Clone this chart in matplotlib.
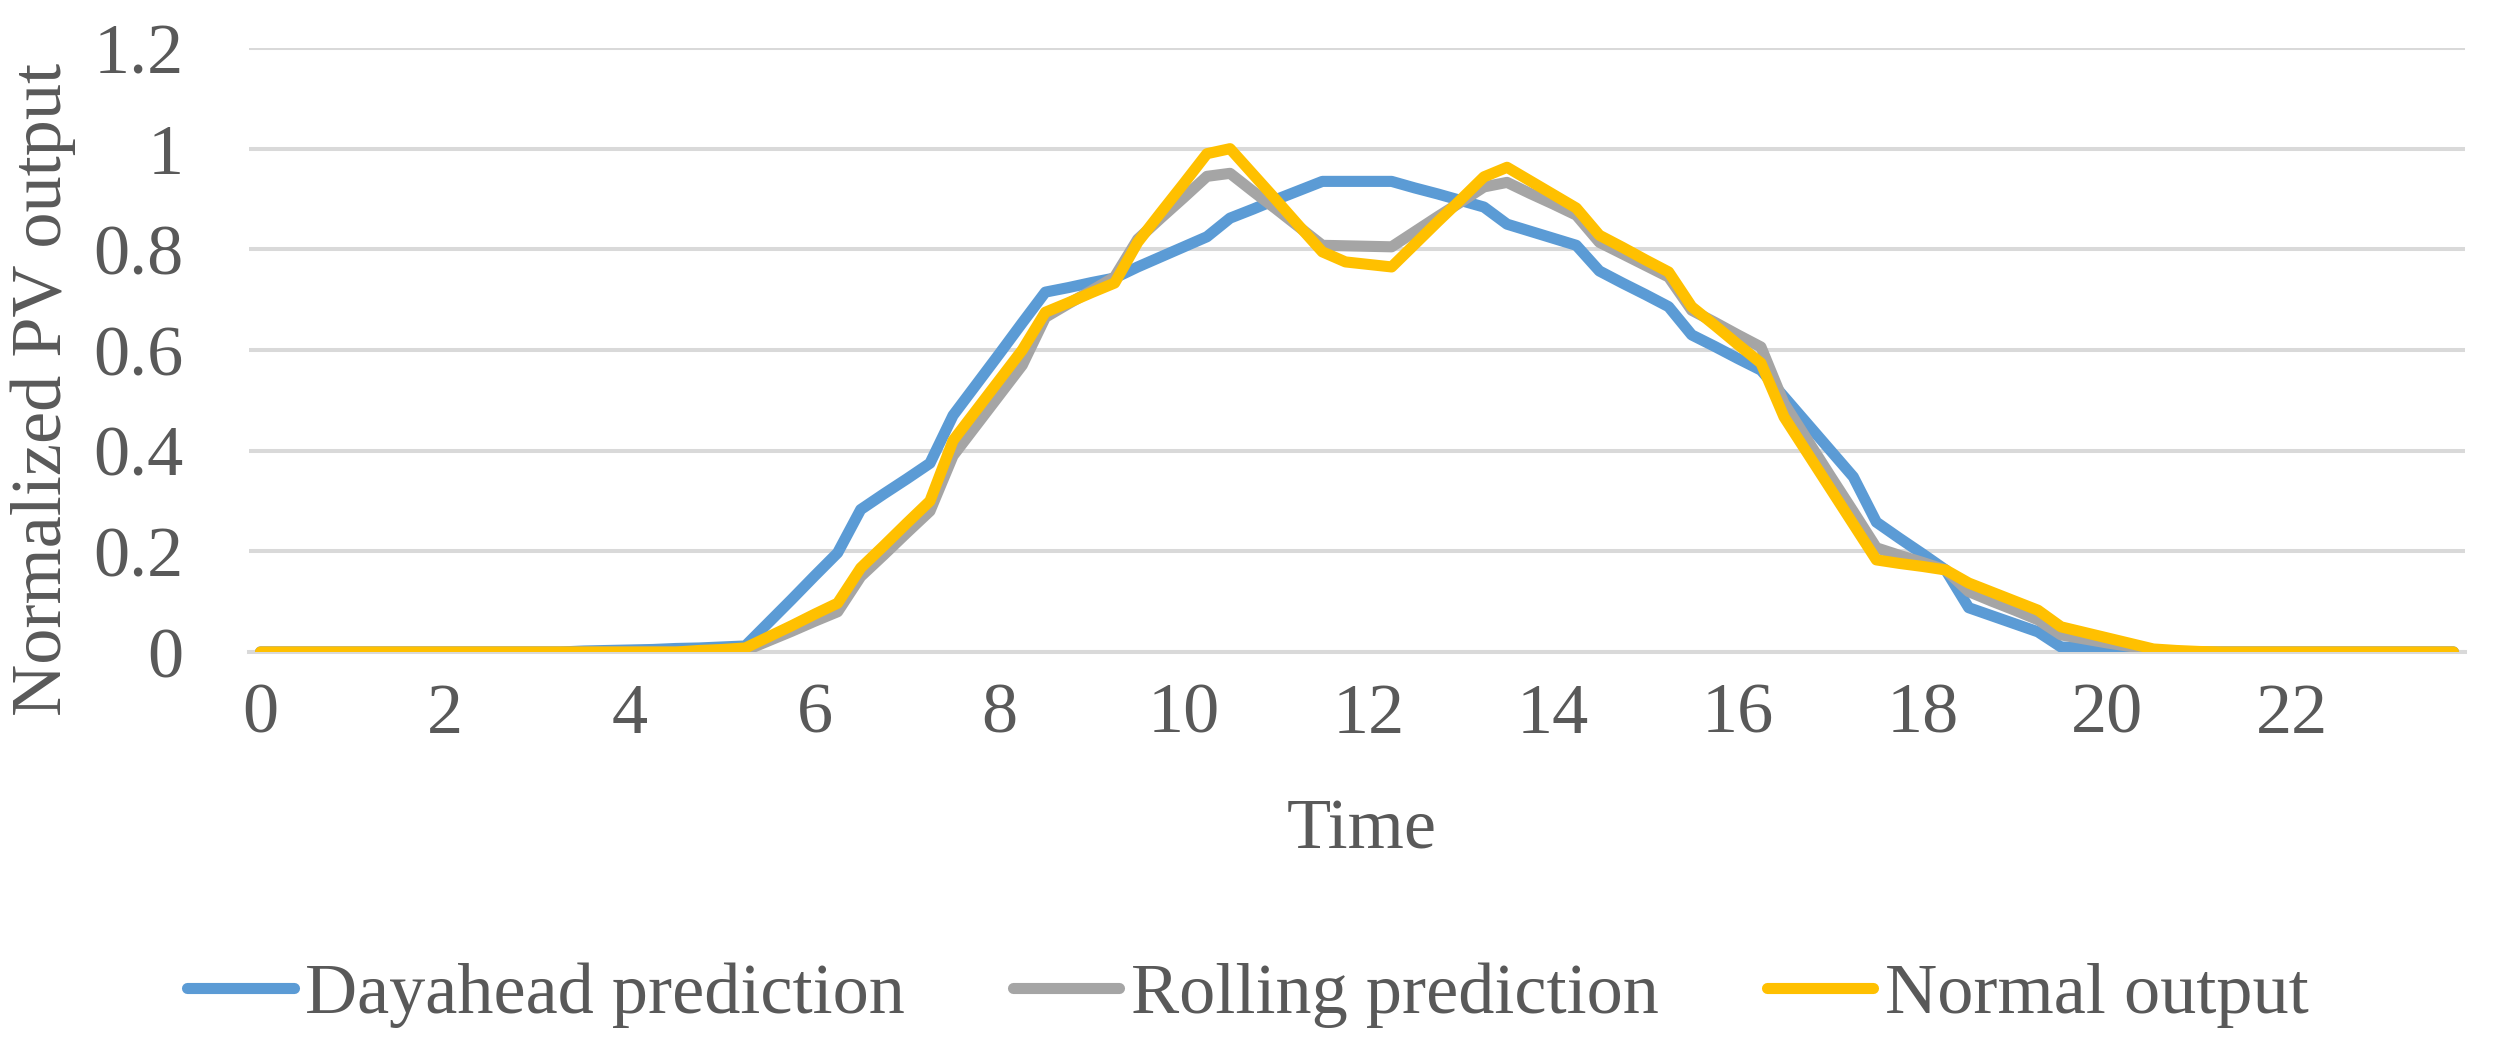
import numpy as np
import matplotlib
matplotlib.use("Agg")
import matplotlib.pyplot as plt

# 15-minute resolution, 96 points per day
time_h = np.arange(96) / 4.0

dayahead = [
    0, 0, 0, 0, 0, 0, 0, 0, 0, 0, 0, 0, 0, 0, 0.002, 0.003,
    0.004, 0.005, 0.007, 0.008, 0.010, 0.012, 0.058, 0.104, 0.151, 0.197, 0.283, 0.314,
    0.344, 0.375, 0.470, 0.531, 0.592, 0.654, 0.715, 0.724, 0.734, 0.743, 0.765, 0.785,
    0.805, 0.825, 0.862, 0.880, 0.899, 0.917, 0.935, 0.935, 0.935, 0.935, 0.922, 0.910,
    0.897, 0.884, 0.850, 0.836, 0.822, 0.808, 0.757, 0.733, 0.710, 0.686, 0.630, 0.607,
    0.583, 0.560, 0.507, 0.454, 0.401, 0.348, 0.258, 0.226, 0.195, 0.163, 0.088, 0.072,
    0.056, 0.040, 0.010, 0.008, 0.006, 0.004, 0.002, 0, 0, 0, 0, 0,
    0, 0, 0, 0, 0, 0, 0, 0,
]

rolling = [
    0, 0, 0, 0, 0, 0, 0, 0, 0, 0, 0, 0, 0, 0, 0, 0,
    0, 0, 0, 0, 0, 0.003, 0.022, 0.041, 0.061, 0.080, 0.150, 0.193,
    0.237, 0.280, 0.390, 0.450, 0.510, 0.570, 0.665, 0.692, 0.718, 0.745, 0.820, 0.862,
    0.903, 0.945, 0.951, 0.915, 0.880, 0.844, 0.808, 0.807, 0.806, 0.805, 0.835, 0.865,
    0.894, 0.924, 0.933, 0.911, 0.890, 0.868, 0.814, 0.791, 0.768, 0.745, 0.679, 0.655,
    0.630, 0.606, 0.494, 0.422, 0.350, 0.279, 0.207, 0.192, 0.178, 0.163, 0.120, 0.101,
    0.083, 0.064, 0.034, 0.026, 0.018, 0.011, 0.003, 0, 0, 0, 0, 0,
    0, 0, 0, 0, 0, 0, 0, 0,
]

normal = [
    0, 0, 0, 0, 0, 0, 0, 0, 0, 0, 0, 0, 0, 0, 0, 0,
    0, 0, 0, 0.003, 0.005, 0.008, 0.030, 0.052, 0.075, 0.097, 0.167, 0.211,
    0.256, 0.300, 0.420, 0.480, 0.540, 0.600, 0.675, 0.694, 0.714, 0.733, 0.814, 0.873,
    0.931, 0.990, 1.000, 0.949, 0.898, 0.846, 0.795, 0.775, 0.770, 0.765, 0.810, 0.855,
    0.899, 0.944, 0.963, 0.936, 0.909, 0.882, 0.828, 0.804, 0.779, 0.755, 0.686, 0.649,
    0.611, 0.574, 0.467, 0.396, 0.325, 0.254, 0.183, 0.176, 0.170, 0.163, 0.137, 0.119,
    0.101, 0.083, 0.050, 0.039, 0.028, 0.017, 0.006, 0.003, 0.001, 0, 0, 0,
    0, 0, 0, 0, 0, 0, 0, 0,
]

series_names = ["Dayahead prediction", "Rolling prediction", "Normal output"]
colors = ["#5B9BD5", "#A5A5A5", "#FFC000"]

xticks = list(range(0, 23, 2))
yticks = [0, 0.2, 0.4, 0.6, 0.8, 1.0, 1.2]
ytick_labels = ["0", "0.2", "0.4", "0.6", "0.8", "1", "1.2"]

plt.rcParams['font.family'] = ['Liberation Serif', 'DejaVu Serif']
txt = "#595959"
fs = 52
lw = 8.0

fig = plt.figure(figsize=(24.96, 10.53), dpi=100)
ax = fig.add_axes([249 / 2496, 1 - 652 / 1053, 2216 / 2496, 604 / 1053])

for vals, name, c in zip([dayahead, rolling, normal], series_names, colors):
    ax.plot(time_h, vals, color=c, lw=lw, label=name,
            solid_capstyle='round', solid_joinstyle='round', zorder=3)

ax.set_xlim(-0.125, 23.875)
ax.set_ylim(0, 1.2)
ax.set_xticks(xticks)
ax.set_xticklabels([str(t) for t in xticks])
ax.set_yticks(yticks)
ax.set_yticklabels(ytick_labels)
ax.tick_params(axis='both', length=0, labelsize=fs, labelcolor=txt)
ax.tick_params(axis='y', pad=47)
ax.tick_params(axis='x', pad=22)

ax.grid(axis='y', color='#D9D9D9', lw=2.9, zorder=0)
for s in ['top', 'right', 'left']:
    ax.spines[s].set_visible(False)
ax.spines['bottom'].set_color('#D9D9D9')
ax.spines['bottom'].set_linewidth(2.9)
ax.set_axisbelow(True)

ax.set_xlabel("Time", fontsize=fs, color=txt)
ax.xaxis.set_label_coords(0.502, -0.296)
ax.xaxis.label.set_va('center')
ax.set_ylabel("Normalized PV output", fontsize=fs, color=txt)
ax.yaxis.set_label_coords(-0.093, 0.435)
ax.yaxis.label.set_va('center')

leg = fig.legend(loc='center', bbox_to_anchor=(0.5, 0.055), ncol=3, frameon=False,
                 fontsize=fs, handlelength=1.47, handletextpad=0.16, columnspacing=1.5)
for t in leg.get_texts():
    t.set_color(txt)
for h in leg.get_lines():
    h.set_linewidth(lw)
    h.set_solid_capstyle('round')

fig.savefig("out.png", dpi=100, facecolor='white')
